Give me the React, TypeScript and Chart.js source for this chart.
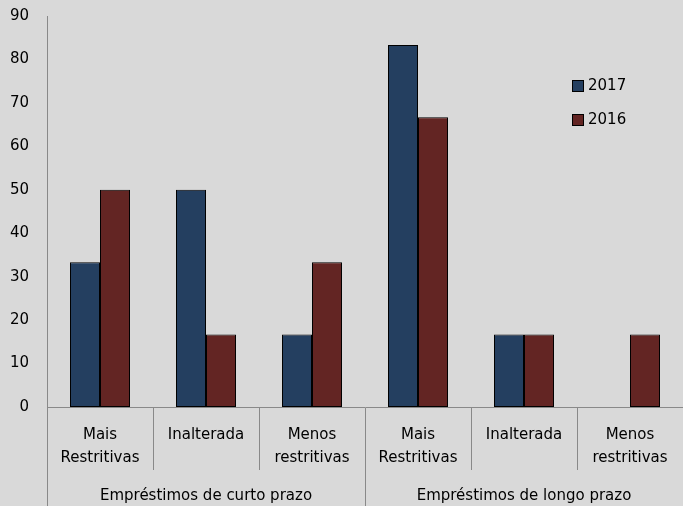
import React, { useEffect, useRef } from 'react';
import { Chart, registerables } from 'chart.js';

Chart.register(...registerables);

const categories: string[][] = [
  ['Mais', 'Restritivas'],
  ['Inalterada'],
  ['Menos', 'restritivas'],
  ['Mais', 'Restritivas'],
  ['Inalterada'],
  ['Menos', 'restritivas'],
];
const groups: string[] = ['Empréstimos de curto prazo', 'Empréstimos de longo prazo'];
const seriesLabels: string[] = ['2017', '2016'];
const values2017: number[] = [33.33, 50, 16.67, 83.33, 16.67, 0];
const values2016: number[] = [50, 16.67, 33.33, 66.67, 16.67, 16.67];
const yMin = 0;
const yMax = 90;
const yStep = 10;

const FONT = 'DejaVu Sans';
const GRAY = '#898989';
const BG = '#d9d9d9';

const bgPlugin = {
  id: 'bgFill',
  beforeDraw(chart: any) {
    const { ctx, width, height } = chart;
    ctx.save();
    ctx.fillStyle = BG;
    ctx.fillRect(0, 0, width, height);
    ctx.restore();
  },
};

const legendPlugin = {
  id: 'insideLegend',
  afterDraw(chart: any) {
    const { ctx, chartArea } = chart;
    const x = chartArea.right - 111;
    let y = chartArea.top + 64;
    ctx.save();
    ctx.font = `15px "${FONT}"`;
    ctx.textBaseline = 'middle';
    ctx.textAlign = 'left';
    chart.data.datasets.forEach((ds: any) => {
      ctx.fillStyle = ds.backgroundColor;
      ctx.fillRect(x + 0.5, y + 0.5, 11, 11);
      ctx.strokeStyle = '#000';
      ctx.lineWidth = 1;
      ctx.strokeRect(x + 0.5, y + 0.5, 11, 11);
      ctx.fillStyle = '#000';
      ctx.fillText(ds.label, x + 16, y + 6.5);
      y += 34;
    });
    ctx.restore();
  },
};

export default function App() {
  const ref = useRef<HTMLCanvasElement | null>(null);

  useEffect(() => {
    if (!ref.current) return;
    const chart = new Chart(ref.current, {
      type: 'bar',
      data: {
        labels: categories as any,
        datasets: [
          {
            label: seriesLabels[0],
            data: values2017,
            backgroundColor: '#243f60',
            borderColor: '#000000',
            borderWidth: 1,
            borderSkipped: false,
            barPercentage: 1,
            categoryPercentage: 0.566,
            xAxisID: 'x',
          },
          {
            label: seriesLabels[1],
            data: values2016,
            backgroundColor: '#632523',
            borderColor: '#000000',
            borderWidth: 1,
            borderSkipped: false,
            barPercentage: 1,
            categoryPercentage: 0.566,
            xAxisID: 'x',
          },
        ],
      },
      options: {
        animation: false,
        responsive: false,
        devicePixelRatio: 1,
        layout: { padding: { top: 16, left: 0, right: 0, bottom: 0 } },
        plugins: {
          legend: { display: false },
          tooltip: { enabled: false },
        },
        scales: {
          x: {
            type: 'category',
            position: 'bottom',
            offset: true,
            weight: 0,
            grid: {
              offset: true,
              drawOnChartArea: false,
              drawTicks: true,
              tickLength: 63,
              color: GRAY,
              lineWidth: 1,
            },
            border: { display: true, color: GRAY, width: 1 },
            ticks: {
              autoSkip: false,
              maxRotation: 0,
              minRotation: 0,
              padding: -46,
              color: '#000',
              font: { family: FONT, size: 15, lineHeight: 1.5333 },
            },
            afterFit: (s: any) => {
              s.height = 63;
            },
          },
          x2: {
            type: 'category',
            labels: groups,
            position: 'bottom',
            offset: true,
            weight: 1,
            grid: {
              offset: true,
              drawOnChartArea: false,
              drawTicks: true,
              tickLength: 36,
              color: GRAY,
              lineWidth: 1,
            },
            border: { display: false },
            ticks: {
              autoSkip: false,
              maxRotation: 0,
              minRotation: 0,
              padding: -21,
              color: '#000',
              font: { family: FONT, size: 15, lineHeight: 1.5333 },
            },
            afterFit: (s: any) => {
              s.height = 36;
            },
          },
          y: {
            min: yMin,
            max: yMax,
            grid: { display: false, drawTicks: false },
            border: { display: true, color: GRAY, width: 1 },
            ticks: {
              stepSize: yStep,
              padding: 18,
              color: '#000',
              font: { family: FONT, size: 15 },
            },
            afterFit: (s: any) => {
              s.width = 47;
              s.paddingTop = 0;
              s.paddingBottom = 0;
            },
          },
        } as any,
      },
      plugins: [bgPlugin, legendPlugin],
    });
    return () => chart.destroy();
  }, []);

  return (
    <div
      style={{
        position: 'fixed',
        left: 0,
        top: 0,
        width: 683,
        height: 506,
        background: BG,
        overflow: 'hidden',
      }}
    >
      <canvas ref={ref} width={683} height={506} style={{ display: 'block' }} />
    </div>
  );
}
